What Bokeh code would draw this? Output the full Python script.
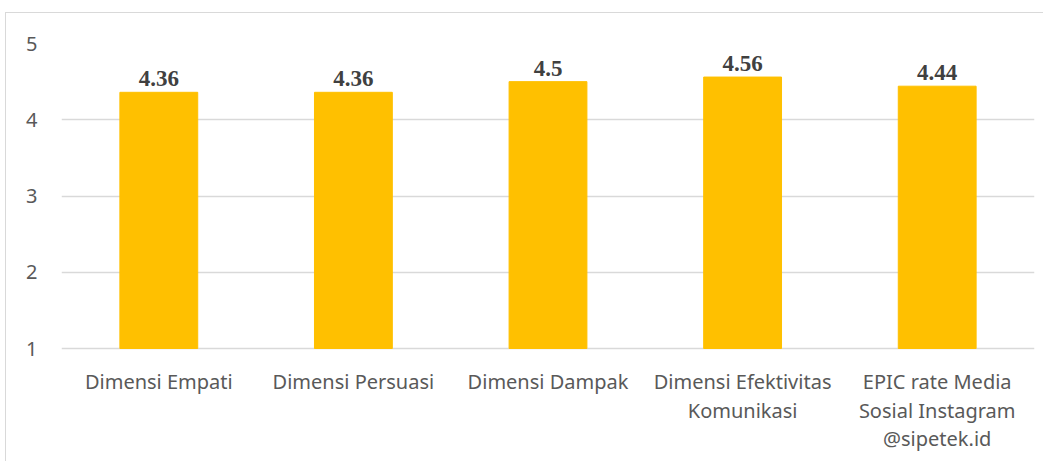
from bokeh.plotting import figure
from bokeh.models import ColumnDataSource, FactorRange, Range1d, FixedTicker
from bokeh.core.properties import value
from bokeh.embed import file_html
from bokeh.resources import INLINE

categories = ["Dimensi Empati", "Dimensi Persuasi", "Dimensi Dampak",
              "Dimensi Efektivitas Komunikasi",
              "EPIC rate Media Sosial Instagram @sipetek.id"]
tick_lines = [["Dimensi Empati"], ["Dimensi Persuasi"], ["Dimensi Dampak"],
              ["Dimensi Efektivitas", "Komunikasi"],
              ["EPIC rate Media", "Sosial Instagram", "@sipetek.id"]]
scores = [4.36, 4.36, 4.5, 4.56, 4.44]
score_labels = ["4.36", "4.36", "4.5", "4.56", "4.44"]
y_ticks = [1, 2, 3, 4, 5]

# layout (pixels)
FRAME_TOP = 30
FRAME_H = 419            # frame extends below the axis minimum to hold category labels
PX_PER_UNIT = 305 / 4    # pixel height of one value unit
y_min_shown = y_ticks[-1] - FRAME_H / PX_PER_UNIT

src = ColumnDataSource(dict(cat=categories, val=scores, lab=score_labels))

lab_cat, lab_txt, lab_off = [], [], []
for c, lines in zip(categories, tick_lines):
    for k, line in enumerate(lines):
        lab_cat.append(c)
        lab_txt.append(line)
        lab_off.append(33 + 28.5 * k)
cat_src = ColumnDataSource(dict(cat=lab_cat, txt=lab_txt, off=lab_off,
                                y=[y_ticks[0]] * len(lab_cat)))

p = figure(width=1038, height=FRAME_TOP + FRAME_H, x_range=FactorRange(*categories),
           y_range=Range1d(y_min_shown, y_ticks[-1]), output_backend="svg",
           toolbar_location=None,
           min_border_left=55, min_border_right=10, min_border_top=FRAME_TOP,
           min_border_bottom=0)
p.styles = {"margin-left": "5px", "margin-top": "12px",
            "border-left": "1px solid #d9d9d9", "border-top": "1px solid #d9d9d9"}
p.outline_line_color = None
p.background_fill_color = "white"
p.border_fill_color = "white"

p.vbar(x="cat", top="val", bottom=y_ticks[0], width=0.4, color="#FFC000", source=src)
p.text(x="cat", y="val", text="lab", source=src, text_align="center",
       text_baseline="bottom", y_offset=-6, text_font=value("Liberation Serif"),
       text_font_style="bold", text_font_size="23px", text_color="#404040")
p.text(x="cat", y="y", text="txt", source=cat_src, y_offset="off",
       text_align="center", text_baseline="middle", text_font=value("Noto Sans"),
       text_font_size="20px", text_color="#595959")

p.xgrid.grid_line_color = None
p.ygrid.grid_line_color = "#d9d9d9"
p.ygrid.grid_line_width = 1.5
p.yaxis.ticker = FixedTicker(ticks=y_ticks)
p.xaxis.visible = False

p.yaxis.axis_line_color = None
p.yaxis.major_tick_line_color = None
p.yaxis.minor_tick_line_color = None
p.yaxis.major_label_text_font = "Noto Sans"
p.yaxis.major_label_text_font_size = "20px"
p.yaxis.major_label_text_color = "#595959"
p.yaxis.major_label_standoff = 18

open("out.html", "w").write(file_html(p, INLINE))
